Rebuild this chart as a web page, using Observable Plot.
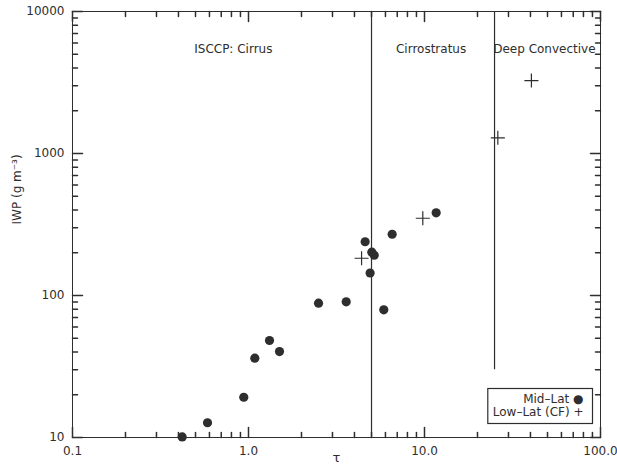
<!DOCTYPE html>
<html><head><meta charset="utf-8">
<script src="https://cdn.jsdelivr.net/npm/d3@7"></script>
<script src="https://cdn.jsdelivr.net/npm/@observablehq/plot@0.6"></script>
<style>body{margin:0;background:#fff}</style>
</head><body><div id="chart"></div>
<script>
// Mid-latitude observations (dots)
const midLatTau = [0.42, 0.585, 0.94, 1.086, 1.316, 1.50, 2.50, 3.59, 4.60, 5.02, 5.18, 4.91, 5.87, 6.55, 11.65];
const midLatIWP = [10.1, 12.7, 19.2, 36.2, 48.2, 40.3, 88.3, 90.3, 239, 202, 192, 144, 79.3, 270, 382];
// Low-latitude (CF) observations (crosses)
const lowLatTau = [4.39, 9.78, 26.1, 40.5];
const lowLatIWP = [183, 350, 1290, 3265];
// ISCCP class boundaries
const boundaryTau = [5, 25];
const boundaryIWPLow = [10, 30];
const boundaryIWPHigh = [10000, 10000];
// Region labels
const regionNames = ["ISCCP: Cirrus", "Cirrostratus", "Deep Convective"];
const regionTau = [0.82, 10.9, 48];
const regionIWP = [5400, 5400, 5400];
// Axis ticks
const xMajor = [0.1, 1, 10, 100];
const xMajorLabels = ["0.1", "1.0", "10.0", "100.0"];
const yMajor = [10, 100, 1000, 10000];
const yMajorLabels = ["10", "100", "1000", "10000"];
const minorMultipliers = [2, 3, 4, 5, 6, 7, 8, 9];
const xMinor = [0.1, 1, 10].flatMap(d => minorMultipliers.map(m => d * m));
const yMinor = [10, 100, 1000].flatMap(d => minorMultipliers.map(m => d * m));
// Legend
const legendLabels = ["Mid–Lat ●", "Low–Lat (CF) +"];
const xTitle = "τ";
const yTitle = "IWP (g m⁻³)";

const midLat = midLatTau.map((t, i) => ({tau: t, iwp: midLatIWP[i]}));
const lowLat = lowLatTau.map((t, i) => ({tau: t, iwp: lowLatIWP[i]}));
const bounds = boundaryTau.map((t, i) => ({tau: t, lo: boundaryIWPLow[i], hi: boundaryIWPHigh[i]}));
const regions = regionNames.map((n, i) => ({name: n, tau: regionTau[i], iwp: regionIWP[i]}));

const ink = "#2e2e2e";
// straight line shape for inward ticks
const lineShape = {draw(context, l) { context.moveTo(0, 0); context.lineTo(0, -l); }};
const tickMarks = [];
for (const [anchor, rot] of [["bottom", 0], ["top", 180]]) {
  tickMarks.push(Plot.vectorX(xMajor, {x: d => d, frameAnchor: anchor, anchor: "start", rotate: rot, length: 10, shape: lineShape, stroke: ink}));
  tickMarks.push(Plot.vectorX(xMinor, {x: d => d, frameAnchor: anchor, anchor: "start", rotate: rot, length: 5, shape: lineShape, stroke: ink}));
}
for (const [anchor, rot] of [["left", 90], ["right", -90]]) {
  tickMarks.push(Plot.vectorY(yMajor, {y: d => d, frameAnchor: anchor, anchor: "start", rotate: rot, length: 10, shape: lineShape, stroke: ink}));
  tickMarks.push(Plot.vectorY(yMinor, {y: d => d, frameAnchor: anchor, anchor: "start", rotate: rot, length: 5, shape: lineShape, stroke: ink}));
}

const plot = Plot.plot({
  width: 617, height: 469,
  marginLeft: 72, marginRight: 17, marginTop: 11, marginBottom: 32,
  style: {fontFamily: "'DejaVu Sans', sans-serif", fontSize: "12px", color: ink, background: "#fff"},
  x: {type: "log", domain: [0.1, 100]},
  y: {type: "log", domain: [10, 10000]},
  marks: [
    Plot.frame({stroke: ink}),
    ...tickMarks,
    Plot.axisX({anchor: "bottom", ticks: xMajor, tickSize: 0, tickPadding: 9, fill: ink,
      tickFormat: d => xMajorLabels[xMajor.indexOf(d)], label: null}),
    Plot.axisY({anchor: "left", ticks: yMajor, tickSize: 0, tickPadding: 8, fill: ink,
      tickFormat: d => yMajorLabels[yMajor.indexOf(d)], label: null}),
    Plot.ruleX(bounds, {x: "tau", y1: "lo", y2: "hi", stroke: ink, strokeWidth: 1.2}),
    Plot.dot(midLat, {x: "tau", y: "iwp", r: 4.6, fill: ink, stroke: "none"}),
    Plot.dot(lowLat, {x: "tau", y: "iwp", symbol: "plus", r: 4.6, stroke: ink, strokeWidth: 1.2}),
    Plot.text(regions, {x: "tau", y: "iwp", text: "name", textAnchor: "middle", fill: ink}),
    Plot.text([xTitle], {frameAnchor: "bottom", dy: 24, fill: ink, fontSize: 13}),
    Plot.text([yTitle], {frameAnchor: "left", dx: -55, rotate: -90, fill: ink}),
    Plot.text([legendLabels[0]], {frameAnchor: "bottom-right", textAnchor: "end", dx: -17, dy: -35, fill: ink}),
    Plot.text([legendLabels[1]], {frameAnchor: "bottom-right", textAnchor: "end", dx: -17, dy: -22, fill: ink})
  ]
});
document.getElementById("chart").appendChild(plot);

// Box around the legend, sized from the rendered legend text
const svgBox = plot.getBoundingClientRect();
let x0 = Infinity, y0 = Infinity, x1 = -Infinity, y1 = -Infinity;
plot.querySelectorAll("text").forEach(t => {
  if (!legendLabels.includes(t.textContent)) return;
  const r = t.getBoundingClientRect();
  x0 = Math.min(x0, r.left - svgBox.left); y0 = Math.min(y0, r.top - svgBox.top);
  x1 = Math.max(x1, r.right - svgBox.left); y1 = Math.max(y1, r.bottom - svgBox.top);
});
if (isFinite(x0)) {
  d3.select(plot).append("rect")
    .attr("x", x0 - 5).attr("y", y0 - 3)
    .attr("width", x1 - x0 + 14).attr("height", y1 - y0 + 8)
    .attr("fill", "none").attr("stroke", ink).attr("stroke-width", 1.2);
}
</script>
</body></html>
